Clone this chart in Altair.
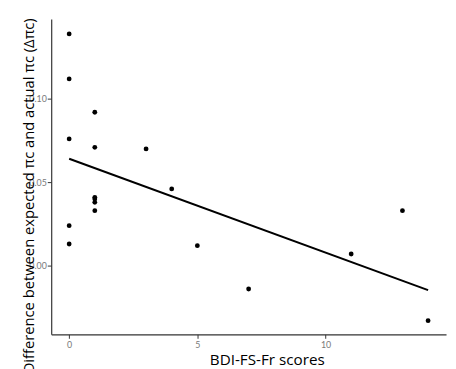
import altair as alt
import pandas as pd

bdi_scores = [0, 0, 0, 0, 0, 1, 1, 1, 1, 1, 1, 3, 4, 5, 7, 11, 13, 14]
delta_pi = [0.139, 0.112, 0.076, 0.024, 0.013, 0.092, 0.071, 0.041, 0.040,
            0.038, 0.033, 0.070, 0.046, 0.012, -0.014, 0.007, 0.033, -0.033]
x_ticks = [0, 5, 10]
y_ticks = [0.0, 0.05, 0.10]
x_title = "BDI-FS-Fr scores"
y_title = "Difference between expected πc and actual πc (Δπc)"

df = pd.DataFrame({"x": bdi_scores, "y": delta_pi})

x_scale = alt.Scale(domain=[-0.7, 14.7], nice=False, zero=False)
y_scale = alt.Scale(domain=[-0.0412, 0.1479], nice=False, zero=False)

common_axis = dict(title=None, grid=False, domainColor="#333333", domainWidth=1.2,
                   tickColor="#333333", tickWidth=1, tickSize=4,
                   labelColor="#7a7a7a", labelFontSize=9, labelFont="Lato")
x_axis = alt.Axis(values=x_ticks, format="d", labelPadding=2, **common_axis)
y_axis = alt.Axis(values=y_ticks, format=".2f", labelPadding=1, **common_axis)

base = alt.Chart(df)
points = base.mark_circle(size=24, color="black", opacity=1).encode(
    x=alt.X("x:Q", scale=x_scale, axis=x_axis),
    y=alt.Y("y:Q", scale=y_scale, axis=y_axis),
)
fit = base.transform_regression("x", "y").mark_line(color="black", strokeWidth=2).encode(
    x=alt.X("x:Q", scale=x_scale),
    y=alt.Y("y:Q", scale=y_scale),
)

xt = alt.Chart(pd.DataFrame({"t": [x_title]})).mark_text(
    font="Open Sans", fontSize=15.5, color="black", align="center", baseline="alphabetic"
).encode(x=alt.value(220), y=alt.value(352), text="t:N")

yt = alt.Chart(pd.DataFrame({"t": [y_title]})).mark_text(
    font="Open Sans", fontSize=15, color="black", align="center", baseline="alphabetic", angle=270
).encode(x=alt.value(-18), y=alt.value(180), text="t:N")

chart = alt.layer(points, fit, xt, yt).properties(
    width=402, height=321,
    autosize=alt.AutoSizeParams(type="none"),
    padding={"left": 44, "top": 8, "right": 2, "bottom": 32},
    background="white",
).configure_view(stroke=None)

chart.save("out.html", embed_options={"renderer": "svg", "actions": False})
